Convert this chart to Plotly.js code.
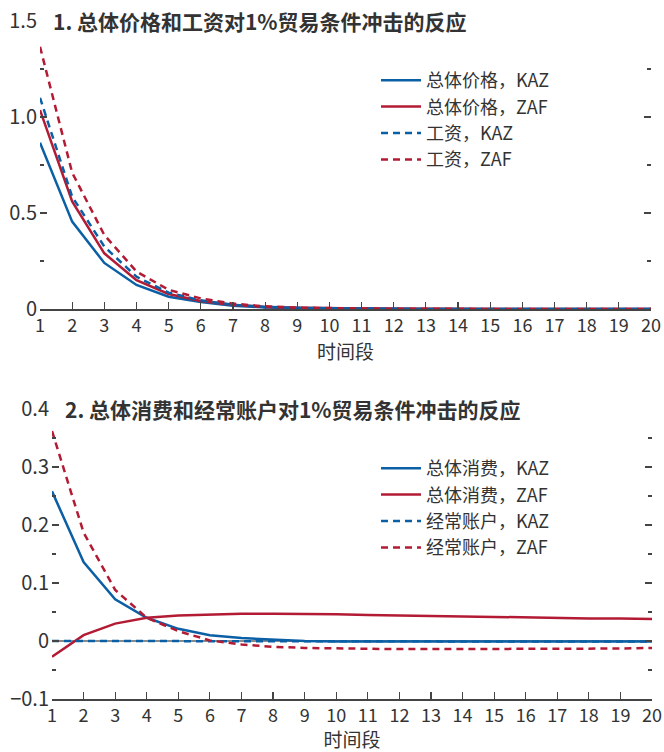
<!DOCTYPE html>
<html><head><meta charset="utf-8">
<script src="https://cdn.plot.ly/plotly-3.0.1.min.js"></script>
<style>html,body{margin:0;padding:0;background:#fff}#chart{width:664px;height:752px}</style>
</head><body><div id="chart"></div>
<script>
const periods = [1,2,3,4,5,6,7,8,9,10,11,12,13,14,15,16,17,18,19,20];
const xTickLabels = periods.map(String);

// Panel 1
const title1 = "1. 总体价格和工资对1%贸易条件冲击的反应";
const priceKAZ = [0.866,0.455,0.240,0.125,0.064,0.036,0.017,0.008,0.004,0.002,0.001,0.001,0,0,0,0,0,0,0,0];
const priceZAF = [1.036,0.560,0.290,0.150,0.078,0.042,0.021,0.011,0.006,0.003,0.002,0.001,0.001,0,0,0,0,0,0,0];
const wageKAZ  = [1.100,0.585,0.325,0.168,0.085,0.045,0.022,0.011,0.006,0.003,0.002,0.001,0,0,0,0,0,0,0,0];
const wageZAF  = [1.366,0.710,0.385,0.195,0.100,0.055,0.028,0.014,0.007,0.004,0.002,0.001,0.001,0,0,0,0,0,0,0];
const names1 = ["总体价格，KAZ","总体价格，ZAF","工资，KAZ","工资，ZAF"];
const yTicks1 = [0, 0.5, 1.0, 1.5];
const yTickLabels1 = ['0', '0.5', '1.0', '1.5'];

// Panel 2
const title2 = "2. 总体消费和经常账户对1%贸易条件冲击的反应";
const consKAZ = [0.258,0.136,0.072,0.040,0.021,0.010,0.005,0.002,0.000,-0.001,-0.001,-0.001,-0.001,-0.001,-0.001,-0.001,-0.001,-0.001,-0.001,-0.001];
const consZAF = [-0.027,0.010,0.030,0.040,0.044,0.046,0.047,0.047,0.047,0.046,0.045,0.044,0.043,0.042,0.041,0.041,0.040,0.039,0.039,0.038];
const caKAZ   = [0.000,0.000,-0.001,-0.001,-0.001,-0.001,-0.001,-0.001,-0.001,-0.001,-0.001,-0.001,-0.001,-0.001,-0.001,-0.001,-0.001,-0.001,-0.001,-0.001];
const caZAF   = [0.362,0.187,0.088,0.040,0.017,0.001,-0.006,-0.010,-0.012,-0.013,-0.013,-0.014,-0.014,-0.014,-0.014,-0.014,-0.013,-0.013,-0.013,-0.012];
const names2 = ["总体消费，KAZ","总体消费，ZAF","经常账户，KAZ","经常账户，ZAF"];
const yTicks2 = [-0.1, 0, 0.1, 0.2, 0.3, 0.4];
const yTickLabels2 = ['−0.1', '0', '0.1', '0.2', '0.3', '0.4'];

const xTitle = "时间段";

const BLUE = "#0b5fa5", RED = "#b31b34", TXT = "#333333";
const FONT = "'Liberation Sans Narrow', 'Noto Sans CJK SC', sans-serif";
const W = 664, H = 752;
const DASH = "7px,5px";

function tr(y, name, color, dash, xa, ya, legend) {
  return {x: periods, y: y, name: name, type: 'scatter', mode: 'lines',
    line: {color: color, width: 2.5, dash: dash},
    xaxis: xa, yaxis: ya, legend: legend, hoverinfo: 'skip'};
}

const data = [
  tr(priceKAZ, names1[0], BLUE, 'solid', 'x', 'y', 'legend'),
  tr(priceZAF, names1[1], RED, 'solid', 'x', 'y', 'legend'),
  tr(wageKAZ, names1[2], BLUE, DASH, 'x', 'y', 'legend'),
  tr(wageZAF, names1[3], RED, DASH, 'x', 'y', 'legend'),
  tr(consKAZ, names2[0], BLUE, 'solid', 'x2', 'y2', 'legend2'),
  tr(consZAF, names2[1], RED, 'solid', 'x2', 'y2', 'legend2'),
  tr(caKAZ, names2[2], BLUE, DASH, 'x2', 'y2', 'legend2'),
  tr(caZAF, names2[3], RED, DASH, 'x2', 'y2', 'legend2')
];

function px(v){ return v / W; }
function py(v){ return 1 - v / H; }

const xCommon = {
  range: [1, 20], tickvals: periods, ticktext: xTickLabels,
  ticks: 'inside', ticklen: 7, tickwidth: 1.2, tickcolor: '#444',
  showline: true, linecolor: '#444', linewidth: 1.5,
  showgrid: false, zeroline: false,
  tickfont: {family: FONT, size: 18, color: TXT},
  title: {text: xTitle, font: {family: FONT, size: 19, color: TXT}, standoff: 3}
};

const yCommon = {
  ticks: 'inside', ticklen: 7, tickwidth: 1.2, tickcolor: '#444',
  mirror: 'ticks', showline: false, showgrid: false,
  tickfont: {family: FONT, size: 20, color: TXT}, ticklabelstandoff: 2
};

const layout = {
  width: W, height: H,
  margin: {l: 0, r: 0, t: 0, b: 0},
  paper_bgcolor: '#fff', plot_bgcolor: '#fff',
  font: {family: FONT, color: TXT},
  showlegend: true,
  xaxis: Object.assign({}, xCommon, {domain: [px(40), px(651)], anchor: 'y'}),
  yaxis: Object.assign({}, yCommon, {
    domain: [py(309), py(21)], range: [0, 1.5], anchor: 'x',
    tickvals: yTicks1, ticktext: yTickLabels1, zeroline: false,
    minor: {dtick: 0.25, tick0: 0, ticks: 'inside', ticklen: 4, tickwidth: 1.2, tickcolor: '#444', showgrid: false}
  }),
  xaxis2: Object.assign({}, xCommon, {domain: [px(52), px(652)], anchor: 'y2'}),
  yaxis2: Object.assign({}, yCommon, {
    domain: [py(699), py(409)], range: [-0.1, 0.4], anchor: 'x2',
    tickvals: yTicks2, ticktext: yTickLabels2,
    zeroline: true, zerolinecolor: '#8a8a8a', zerolinewidth: 1.5,
    minor: {dtick: 0.05, tick0: 0, ticks: 'inside', ticklen: 4, tickwidth: 1.2, tickcolor: '#444', showgrid: false}
  }),
  legend: {
    x: px(376), y: py(62), xanchor: 'left', yanchor: 'top',
    bgcolor: 'rgba(0,0,0,0)', font: {family: FONT, size: 18, color: TXT},
    tracegroupgap: 0, itemwidth: 40
  },
  legend2: {
    x: px(376), y: py(450), xanchor: 'left', yanchor: 'top',
    bgcolor: 'rgba(0,0,0,0)', font: {family: FONT, size: 18, color: TXT},
    tracegroupgap: 0, itemwidth: 40
  },
  annotations: [
    {text: '<b>' + title1 + '</b>', xref: 'paper', yref: 'paper', x: px(51), y: py(21),
     xanchor: 'left', yanchor: 'middle', showarrow: false, font: {family: FONT, size: 21, color: TXT}},
    {text: '<b>' + title2 + '</b>', xref: 'paper', yref: 'paper', x: px(63), y: py(409),
     xanchor: 'left', yanchor: 'middle', showarrow: false, font: {family: FONT, size: 21, color: TXT}}
  ]
};

Plotly.newPlot('chart', data, layout, {staticPlot: true, displayModeBar: false});
</script></body></html>
